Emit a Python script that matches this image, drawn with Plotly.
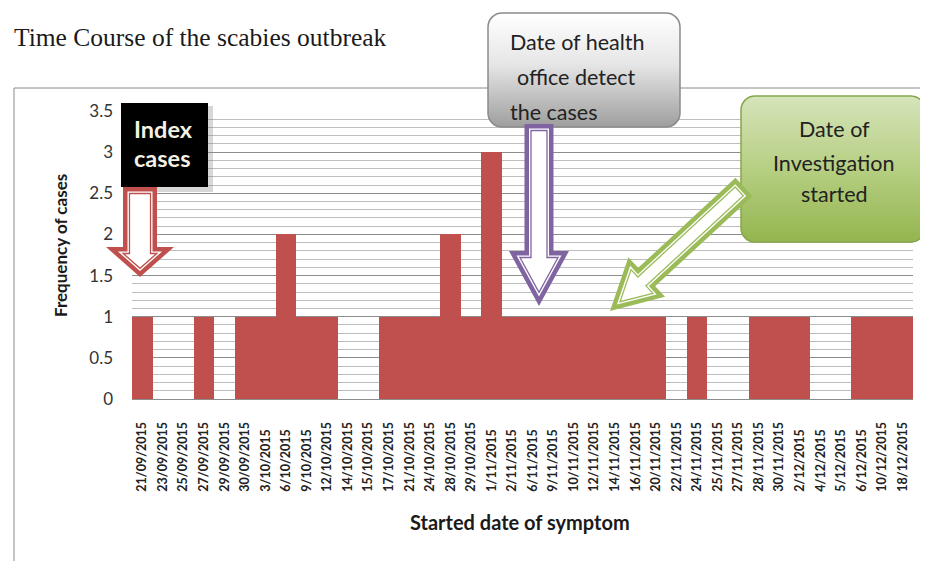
import base64
import numpy as np
import plotly.graph_objects as go

# ---------------- data ----------------
dates = ["21/09/2015", "23/09/2015", "25/09/2015", "27/09/2015", "29/09/2015", "30/09/2015",
         "3/10/2015", "6/10/2015", "9/10/2015", "12/10/2015", "14/10/2015", "15/10/2015",
         "17/10/2015", "21/10/2015", "24/10/2015", "28/10/2015", "29/10/2015", "1/11/2015",
         "2/11/2015", "6/11/2015", "9/11/2015", "10/11/2015", "12/11/2015", "14/11/2015",
         "16/11/2015", "20/11/2015", "22/11/2015", "24/11/2015", "25/11/2015", "27/11/2015",
         "28/11/2015", "30/11/2015", "2/12/2015", "4/12/2015", "5/12/2015", "6/12/2015",
         "10/12/2015", "18/12/2015"]
cases = [1, 0, 0, 1, 0, 1,
         1, 2, 1, 1, 0, 0,
         1, 1, 1, 2, 1, 3,
         1, 1, 1, 1, 1, 1,
         1, 1, 0, 1, 0, 0,
         1, 1, 1, 0, 0, 1,
         1, 1]
y_ticks = [0, 0.5, 1, 1.5, 2, 2.5, 3, 3.5]
y_tick_text = ["0", "0.5", "1", "1.5", "2", "2.5", "3", "3.5"]

title_text = "Time Course of the scabies outbreak"
x_title = "Started date of symptom"
y_title = "Frequency of cases"

# ---------------- layout geometry ----------------
# The page adds an 8px body margin, so the figure is 8px smaller and all
# reference pixel positions are converted with that offset.
OFF = 8
W, H = 928 - OFF, 561 - OFF
L_REF, R_REF, T_REF, B_REF = 132, 913, 111, 399   # plot area in reference pixels
PW, PH = R_REF - L_REF, B_REF - T_REF
ML, MT = L_REF - OFF, T_REF - OFF
MR, MB = W - (R_REF - OFF), H - (B_REF - OFF)


def px(x):
    return (x - L_REF) / PW


def py(y):
    return 1 - (y - T_REF) / PH


def path_of(points):
    return "M " + " L ".join(f"{px(x):.5f},{py(y):.5f}" for x, y in points) + " Z"


def arrow_poly(tail, tip, sw, hw, hl):
    Tt = np.array(tail, float)
    Pp = np.array(tip, float)
    u = (Pp - Tt) / np.linalg.norm(Pp - Tt)
    n = np.array([-u[1], u[0]])
    Bb = Pp - u * hl
    return [Tt + n * sw, Bb + n * sw, Bb + n * hw, Pp, Bb - n * hw, Bb - n * sw, Tt - n * sw]


def inset(poly, d):
    pts = np.array(poly, float)
    m = len(pts)
    area = sum(pts[i][0] * pts[(i + 1) % m][1] - pts[(i + 1) % m][0] * pts[i][1] for i in range(m))
    sgn = 1 if area > 0 else -1
    lines = []
    for i in range(m):
        a, b = pts[i], pts[(i + 1) % m]
        e = b - a
        nn = sgn * np.array([-e[1], e[0]]) / np.linalg.norm(e)
        lines.append((a + nn * d, e))
    out = []
    for i in range(m):
        a1, d1 = lines[i - 1]
        a2, d2 = lines[i]
        M = np.array([[d1[0], -d2[0]], [d1[1], -d2[1]]])
        t = np.linalg.solve(M, a2 - a1)
        out.append(a1 + d1 * t[0])
    return out


def svg_box(w, h, stops, stroke, rx=14):
    st = "".join(f"<stop offset='{o}' stop-color='{c}'/>" for o, c in stops)
    svg = (f"<svg xmlns='http://www.w3.org/2000/svg' width='{w}' height='{h}' viewBox='0 0 {w} {h}' "
           f"preserveAspectRatio='none'><defs><linearGradient id='g' x1='0' y1='0' x2='0' y2='1'>{st}"
           f"</linearGradient></defs><rect x='1' y='1' width='{w-2}' height='{h-2}' rx='{rx}' ry='{rx}' "
           f"fill='url(#g)' stroke='{stroke}' stroke-width='1.5'/></svg>")
    return "data:image/svg+xml;base64," + base64.b64encode(svg.encode()).decode()


fig = go.Figure()
fig.add_trace(go.Bar(x=dates, y=cases, marker=dict(color="#C0504D", line=dict(width=0)),
                     hoverinfo="x+y"))

sans = "Lato, 'Open Sans', sans-serif"

# labels are bottom-aligned in the original: pad shorter ones with figure spaces at the axis end
maxlen = max(len(d) for d in dates)
tick_text = [d + "\u2007" * (maxlen - len(d)) for d in dates]

fig.update_layout(
    width=W, height=H,
    margin=dict(l=ML, r=MR, t=MT, b=MB, autoexpand=False),
    paper_bgcolor="white", plot_bgcolor="white",
    bargap=0, showlegend=False,
    font=dict(family=sans, color="#222"),
    xaxis=dict(type="category", range=[-0.5, len(dates) - 0.5], tickangle=-90,
               tickvals=dates, ticktext=tick_text,
               tickfont=dict(family=sans, size=12.5, color="#222", weight="bold"),
               showgrid=False, showline=True, linecolor="#8c8c8c", linewidth=1,
               ticks="", ticklabelstandoff=17, fixedrange=True),
    yaxis=dict(range=[0, 3.5], tickvals=y_ticks, ticktext=y_tick_text,
               tickfont=dict(family=sans, size=17, color="#333"),
               showgrid=True, gridcolor="#8c8c8c", gridwidth=1,
               minor=dict(dtick=0.1, tick0=0, showgrid=True, gridcolor="#bdbdbd", gridwidth=1),
               zeroline=False, showline=False, ticks="", ticklabelstandoff=18, fixedrange=True),
)

shapes = []
# outer chart border
shapes.append(dict(type="rect", xref="paper", yref="paper", x0=px(14), y0=py(88), x1=px(940), y1=py(570),
                   line=dict(color="#8a8a8a", width=1), fillcolor="rgba(0,0,0,0)", layer="below"))

# Index cases box (shadow + black)
shapes.append(dict(type="rect", xref="paper", yref="paper", x0=px(124), y0=py(106), x1=px(213), y1=py(192),
                   line=dict(width=0), fillcolor="rgba(140,140,140,0.35)", layer="above"))
shapes.append(dict(type="rect", xref="paper", yref="paper", x0=px(121), y0=py(103), x1=px(208), y1=py(187),
                   line=dict(width=0), fillcolor="#000000", layer="above"))


def add_arrow(tail, tip, sw, hw, hl, color):
    outer = arrow_poly(tail, tip, sw, hw, hl)
    shapes.append(dict(type="path", xref="paper", yref="paper", path=path_of(outer),
                       fillcolor=color, line=dict(width=0), layer="above"))
    shapes.append(dict(type="path", xref="paper", yref="paper", path=path_of(inset(outer, 4.5)),
                       fillcolor="white", line=dict(width=0), layer="above"))
    shapes.append(dict(type="path", xref="paper", yref="paper", path=path_of(inset(outer, 6.5)),
                       fillcolor="white", line=dict(color=color, width=1.3), layer="above"))


add_arrow((140, 187), (140, 277), 17, 34, 30, "#C0504D")
add_arrow((539, 124), (539, 306), 14.5, 30, 55, "#8064A2")
add_arrow((744, 187), (610, 311), 12.5, 27, 50, "#9BBB59")

images = [
    dict(source=svg_box(194, 116, [(0, "#ffffff"), (0.45, "#e6e6e6"), (1, "#9e9e9e")], "#8a8a8a"),
         xref="paper", yref="paper", x=px(487), y=py(12), sizex=194 / PW, sizey=116 / PH,
         xanchor="left", yanchor="top", sizing="stretch", layer="above"),
    dict(source=svg_box(186, 148, [(0, "#d6e4ba"), (0.5, "#b6cf82"), (1, "#94b54f")], "#86a64c"),
         xref="paper", yref="paper", x=px(740), y=py(95), sizex=186 / PW, sizey=148 / PH,
         xanchor="left", yanchor="top", sizing="stretch", layer="above"),
]

ann = []


def text(t, x, y, size, color="#222", bold=False, anchor="center", family=sans, angle=0):
    ann.append(dict(text=t, x=px(x), y=py(y), xref="paper", yref="paper", showarrow=False,
                    xanchor=anchor, yanchor="middle", textangle=angle,
                    font=dict(family=family, size=size, color=color, weight="bold" if bold else "normal")))


text(title_text, 12, 37, 25.5, color="#1a1a1a", anchor="left", family="'Liberation Serif', 'Times New Roman', serif")
text("Index", 163, 129, 23.5, color="#f4f1e4", bold=True)
text("cases", 162, 158, 23.5, color="#f4f1e4", bold=True)
text("Date of health", 577, 42, 21.5)
text("office detect", 576, 77, 21.5)
text("the cases", 553, 112, 21.5)
text("Date of", 834, 129, 21.5)
text("Investigation", 834, 163, 21.5)
text("started", 834, 194, 21.5)
text(x_title, 520, 522, 20, color="#1a1a1a", bold=True)
text(y_title, 60, 246, 17, color="#1a1a1a", bold=True, angle=-90)

fig.update_layout(shapes=shapes, images=images, annotations=ann)
fig.write_html("out.html")
